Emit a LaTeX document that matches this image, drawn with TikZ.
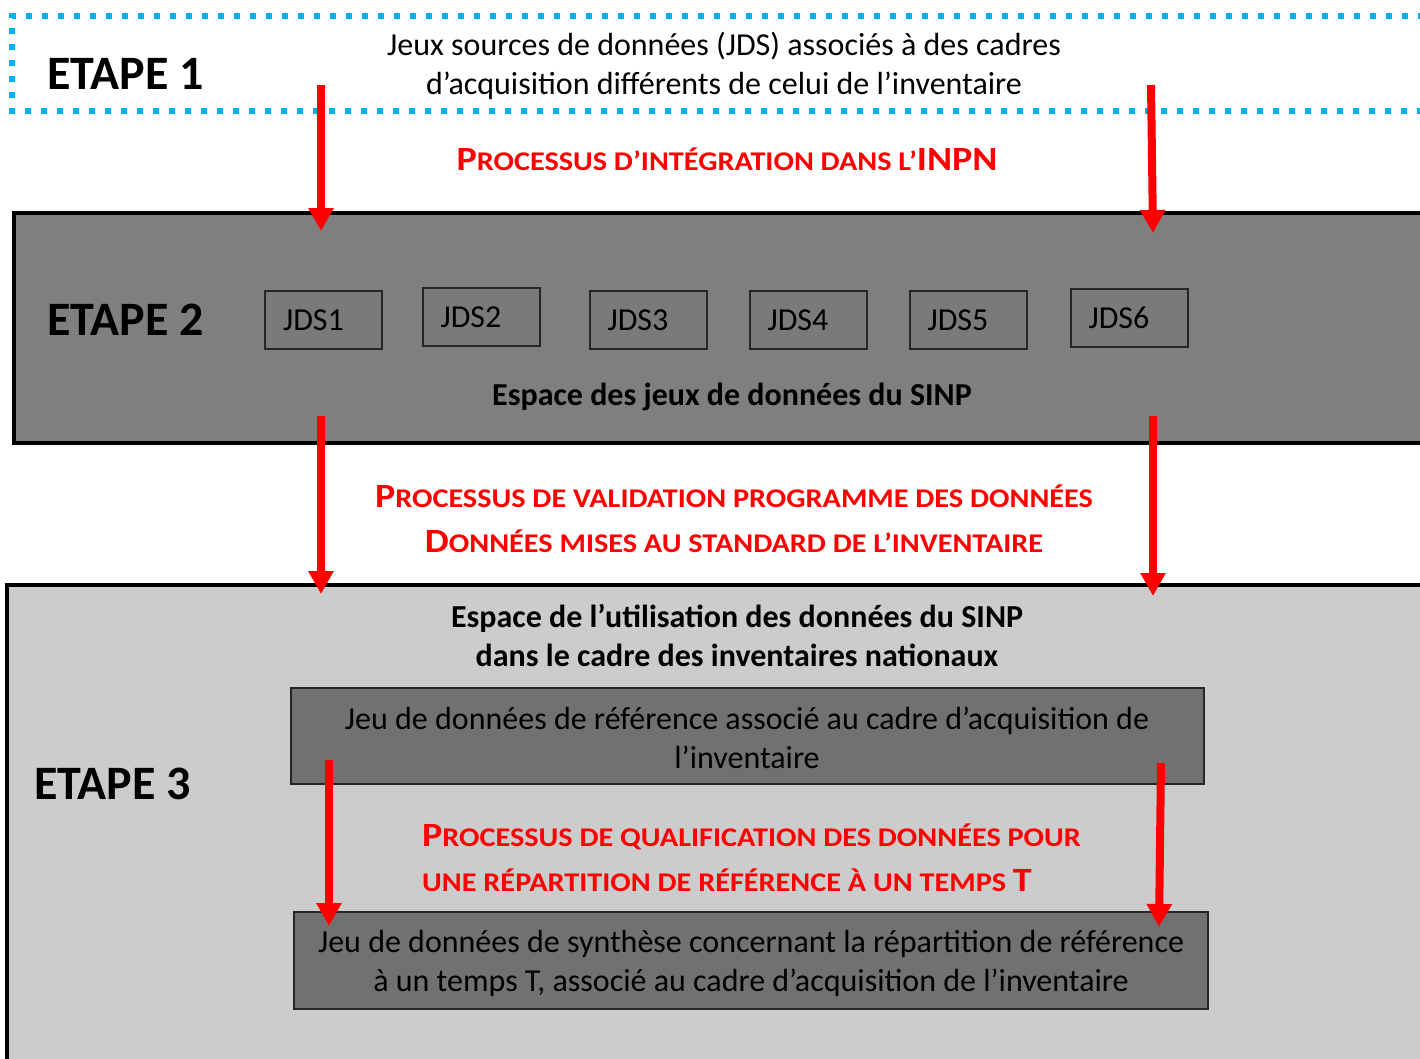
\documentclass[tikz,border=0pt]{standalone}
\usepackage{fontspec}
\setmainfont{Carlito}
\usetikzlibrary{arrows.meta}
\definecolor{dotblue}{RGB}{0,176,240}
\definecolor{gtwo}{RGB}{127,127,127}
\definecolor{gjds}{RGB}{122,122,122}
\definecolor{gthree}{RGB}{204,204,204}
\definecolor{gbox}{RGB}{113,113,113}
\definecolor{redarrow}{RGB}{255,0,0}
\newcommand\scbig[1]{{\fontsize{34}{45}\selectfont #1}}
\newcommand\redline[1]{\scalebox{1.12}[1]{#1}}
\newcommand\jdstext[1]{#1\kern20pt\relax}
\begin{document}
\begin{tikzpicture}[x=1pt,y=-1pt,
  etape/.style={font=\fontsize{48}{56}\selectfont\bfseries, inner sep=0pt, anchor=west},
  body/.style={font=\fontsize{32}{39}\selectfont, inner sep=0pt, align=center},
  bodyb/.style={font=\fontsize{32}{39}\selectfont\bfseries, inner sep=0pt, align=center},
  redtxt/.style={text=redarrow, font=\fontsize{27}{45}\selectfont\bfseries, inner sep=0pt, align=center},
  arr/.style={draw=redarrow, line width=8pt, -{Triangle[width=24pt,length=23pt]}},
  stagebox/.style={draw=black, line width=4pt, anchor=north west, inner sep=0pt, outer sep=0pt},
  jds/.style={draw=black!85, line width=2pt, fill=gjds, minimum width=117pt, minimum height=58pt, inner sep=0pt, outer sep=0pt, font=\fontsize{32}{36}\selectfont},
  inbox/.style={draw=black!85, line width=2pt, fill=gbox, inner sep=0pt, outer sep=0pt, anchor=north west}
]
\clip (0,0) rectangle (1420,1058);
\fill[white] (0,0) rectangle (1420,1058);
% Etape 1 dotted frame
\draw[dotblue, line width=6pt, dash pattern=on 6pt off 10pt] (1440,16) -- (12,16) -- (12,111) -- (1440,111);
\node[etape] (e1) at (47,74) {ETAPE 1};
\node[body] (t1) at (724,66) {Jeux sources de données (JDS) associés à des cadres\\d’acquisition différents de celui de l’inventaire};
\node[redtxt] (r1) at (727,159) {\redline{\scbig{P}ROCESSUS D’INTÉGRATION DANS L’\scbig{INPN}}};
% Etape 2
\node[stagebox, fill=gtwo, minimum width=1440pt, minimum height=230pt] (s2) at (14,213) {};
\node[etape] (e2) at (47,320) {ETAPE 2};
\node[jds] (j1) at (323.5,320) {\jdstext{JDS1}};
\node[jds] (j2) at (481,317) {\jdstext{JDS2}};
\node[jds] (j3) at (648,320) {\jdstext{JDS3}};
\node[jds] (j4) at (808,320) {\jdstext{JDS4}};
\node[jds] (j5) at (968,320) {\jdstext{JDS5}};
\node[jds] (j6) at (1129,318) {\jdstext{JDS6}};
\node[bodyb] (sp2) at (732,397) {Espace des jeux de données du SINP};
\node[redtxt] (r2) at (734,519) {\redline{\scbig{P}ROCESSUS DE VALIDATION PROGRAMME DES DONNÉES}\\\redline{\scbig{D}ONNÉES MISES AU STANDARD DE L’INVENTAIRE}};
% Etape 3
\node[stagebox, fill=gthree, minimum width=1440pt, minimum height=520pt] (s3) at (7,585) {};
\node[bodyb] (sp3) at (737,635) {Espace de l’utilisation des données du SINP\\dans le cadre des inventaires nationaux};
\node[etape] (e3) at (34,784) {ETAPE 3};
\node[inbox, minimum width=913pt, minimum height=96pt] (ref) at (291,688) {};
\node[body] (reft) at (747,738) {Jeu de données de référence associé au cadre d’acquisition de\\l’inventaire};
\node[redtxt, anchor=west, align=left] (r3) at (422,858) {\redline{\scbig{P}ROCESSUS DE QUALIFICATION DES DONNÉES POUR}\\\redline{UNE RÉPARTITION DE RÉFÉRENCE À UN TEMPS \scbig{T}}};
\node[inbox, minimum width=914pt, minimum height=97pt] (syn) at (294,912) {};
\node[body] (synt) at (751,963) {Jeu de données de synthèse concernant la répartition de référence\\à un temps T, associé au cadre d’acquisition de l’inventaire};
% arrows
\coordinate (a1s) at (321,85);  \coordinate (a1e) at (321,231);
\coordinate (a2s) at (1151,85); \coordinate (a2e) at (1153,233);
\coordinate (a3s) at (321,416); \coordinate (a3e) at (321,594);
\coordinate (a4s) at (1153,416);\coordinate (a4e) at (1153,596);
\coordinate (a5s) at (329,760); \coordinate (a5e) at (329,926);
\coordinate (a6s) at (1161,763);\coordinate (a6e) at (1159,927);
\draw[arr] (a1s) -- (a1e);
\draw[arr] (a2s) -- (a2e);
\draw[arr] (a3s) -- (a3e);
\draw[arr] (a4s) -- (a4e);
\draw[arr] (a5s) -- (a5e);
\draw[arr] (a6s) -- (a6e);
\end{tikzpicture}
\end{document}
